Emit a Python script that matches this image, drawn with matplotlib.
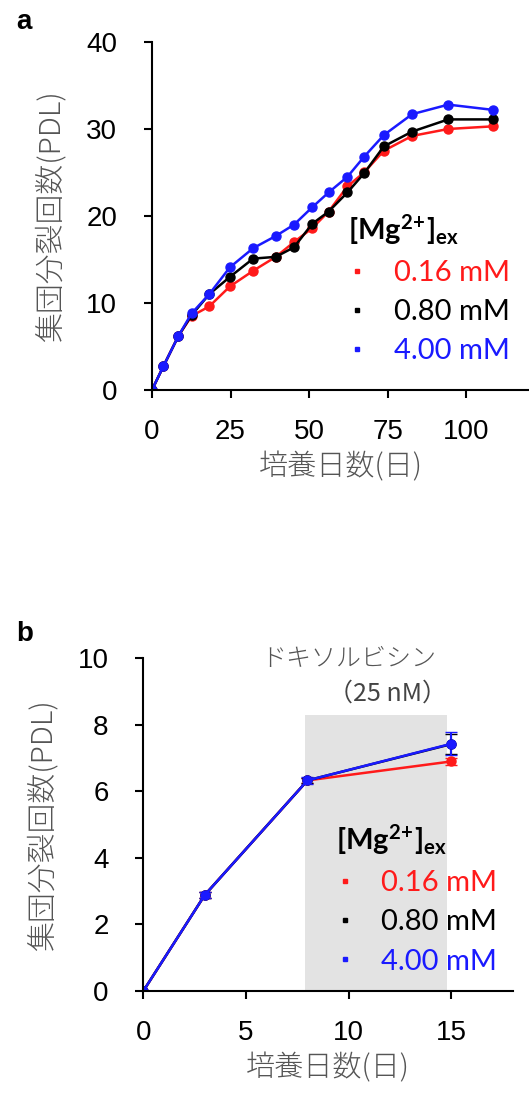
import numpy as np
import matplotlib
matplotlib.use('Agg')
import matplotlib.pyplot as plt
from matplotlib.lines import Line2D

plt.rcParams['font.family'] = ['Liberation Sans', 'Noto Sans CJK JP', 'DejaVu Sans']
plt.rcParams['mathtext.default'] = 'regular'

# panel a : long-term culture
days_a = [0, 3.6, 8.4, 12.6, 18.2, 24.8, 32.2, 39.4, 45.2, 51, 56.2, 62.2, 67.5, 73.8, 82.8, 94.3, 108.4]
pdl_a_016 = [0, 2.7, 6.2, 8.5, 9.6, 11.9, 13.7, 15.3, 17.0, 18.6, 20.5, 23.4, 25.0, 27.5, 29.2, 30.0, 30.3]
pdl_a_080 = [0, 2.7, 6.2, 8.6, 11.0, 13.0, 15.1, 15.3, 16.4, 19.1, 20.5, 22.7, 24.9, 28.0, 29.7, 31.1, 31.1]
pdl_a_400 = [0, 2.7, 6.2, 8.8, 11.0, 14.1, 16.3, 17.7, 19.0, 21.0, 22.7, 24.5, 26.8, 29.3, 31.7, 32.8, 32.2]

# panel b : doxorubicin
days_b = [0, 3, 8, 15]
pdl_b_016 = [0, 2.89, 6.33, 6.90]
pdl_b_080 = [0, 2.89, 6.33, 7.42]
pdl_b_400 = [0, 2.89, 6.33, 7.43]
err_b_016 = [0, 0.08, 0.08, 0.1]
err_b_080 = [0, 0.08, 0.08, 0.3]
err_b_400 = [0, 0.1, 0.1, 0.35]
dox_start, dox_end, dox_top = 7.9, 14.8, 8.3

labels = ['0.16 mM', '0.80 mM', '4.00 mM']
colors = ['#ff1a1a', 'black', '#1a1aff']
gray = '#555555'
cjk = ['Noto Sans CJK JP', 'Liberation Sans']

fig = plt.figure(figsize=(5.29, 10.93), dpi=100)
ax1 = fig.add_axes([0.2873, 0.6432, 0.7127, 0.3184])
ax2 = fig.add_axes([0.2709, 0.0933, 0.6983, 0.3044])

def style(ax):
    for s in ['top', 'right']:
        ax.spines[s].set_visible(False)
    for s in ['left', 'bottom']:
        ax.spines[s].set_linewidth(1.5)
    ax.tick_params(direction='out', length=6, width=1.5, labelsize=20)
    ax.tick_params(axis='y', pad=19)
    ax.tick_params(axis='x', pad=15)
    ax.set_ylabel('集団分裂回数(PDL)', fontsize=21.5, color=gray, family=cjk,
                  fontweight='light', labelpad=14)
    ax.set_xlabel('培養日数(日)', fontsize=21, color=gray, family=cjk,
                  fontweight='light', labelpad=5)

def legend(ax, loc):
    h = [Line2D([], [], ls='none', marker='s', ms=3.5, color=c) for c in colors]
    lg = ax.legend(h, labels, loc='upper left', bbox_to_anchor=loc, frameon=False,
                   handlelength=0.6, handletextpad=0.95, labelspacing=0.45, borderaxespad=0,
                   title='[Mg$^{2\\!+\\!}$]$_{ex}$', alignment='left',
                   labelcolor=colors, prop={'family': 'Lato', 'size': 21})
    t = lg.get_title()
    t.set_fontsize(21)
    t.set_fontweight('bold')
    t.set_family('Lato')

style(ax1)
for y, c in zip([pdl_a_016, pdl_a_080, pdl_a_400], colors):
    ax1.plot(days_a, y, '-o', color=c, lw=1.8, ms=6.5)
ax1.set_xlim(0, 120)
ax1.set_ylim(0, 40)
ax1.set_xticks([0, 25, 50, 75, 100])
ax1.set_yticks([0, 10, 20, 30, 40])
legend(ax1, (0.49, 0.545))
fig.text(0.03, 0.98, 'a', fontsize=20, fontweight='bold', va='center')

style(ax2)
ax2.axvspan(dox_start, dox_end, ymax=dox_top / 10, color='#e3e3e3', lw=0, zorder=0)
for y, e, c in zip([pdl_b_016, pdl_b_080, pdl_b_400], [err_b_016, err_b_080, err_b_400], colors):
    ax2.errorbar(days_b, y, yerr=e, fmt='-o', color=c, lw=1.8, ms=6.5, capsize=4, elinewidth=1.5)
ax2.set_xlim(0, 18)
ax2.set_ylim(0, 10)
ax2.set_xticks([0, 5, 10, 15])
ax2.set_yticks([0, 2, 4, 6, 8, 10])
legend(ax2, (0.49, 0.542))
ax2.text(10.0, 10.0, 'ドキソルビシン', fontsize=18, color=gray, ha='center', va='center',
         family=cjk, fontweight='light')
ax2.text(11.9, 8.95, '（25 nM）', fontsize=18, color='#444444', ha='center', va='center',
         family=cjk)
fig.text(0.03, 0.42, 'b', fontsize=20, fontweight='bold', va='center')

fig.savefig('out.png', dpi=100)
